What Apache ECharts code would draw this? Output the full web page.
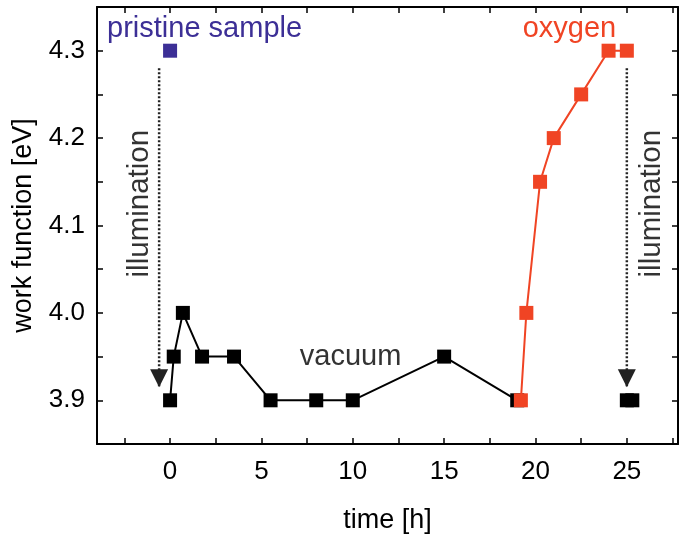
<!DOCTYPE html>
<html><head><meta charset="utf-8">
<script src="https://cdn.jsdelivr.net/npm/echarts@6/dist/echarts.min.js"></script>
<style>html,body{margin:0;padding:0;background:#fff}#c{width:690px;height:539px}</style>
</head><body><div id="c"></div>
<script>
// Data
const vacuumTime = [0, 0.2, 0.7, 1.75, 3.5, 5.5, 8, 10, 15, 19];
const vacuumWF   = [3.9, 3.95, 4.0, 3.95, 3.95, 3.9, 3.9, 3.9, 3.95, 3.9];
const oxygenTime = [19.2, 19.5, 20.25, 21, 22.5, 24, 25];
const oxygenWF   = [3.9, 4.0, 4.15, 4.2, 4.25, 4.3, 4.3];
const afterTime  = [25, 25.3];
const afterWF    = [3.9, 3.9];
const pristineTime = [0];
const pristineWF   = [4.3];
const xLabelTicks = [0, 5, 10, 15, 20, 25];
const xMinorTicks = [-2.5, 0, 2.5, 5, 7.5, 10, 12.5, 15, 17.5, 20, 22.5, 25, 27.5];
const yLabelTicks = [3.9, 4.0, 4.1, 4.2, 4.3];
// annotation arrows: [x, yStart, yEnd]
const arrows = [[-0.6, 4.28, 3.915], [25, 4.28, 3.915]];

const FONT = 'Liberation Sans, Arial, sans-serif';
const chart = echarts.init(document.getElementById('c'));
const zip = (a, b) => a.map((v, i) => [v, b[i]]);
const axisBase = {
  type: 'value', min: -4, max: 27.8,
  axisLine: { show: true, onZero: false, lineStyle: { color: '#000', width: 2 } },
  axisTick: { show: true, inside: true, length: 6, lineStyle: { color: '#000', width: 1.5 }, customValues: xMinorTicks },
  splitLine: { show: false }
};
const yBase = {
  type: 'value', min: 3.85, max: 4.35, interval: 0.05,
  axisLine: { show: true, onZero: false, lineStyle: { color: '#000', width: 2 } },
  axisTick: { show: true, inside: true, length: 6, lineStyle: { color: '#000', width: 1.5 } },
  splitLine: { show: false }
};
const arrowSeries = arrows.map(a => ({
  type: 'line', data: [[a[0], a[1]], [a[0], a[2]]], symbol: 'none', silent: true,
  lineStyle: { color: '#222', width: 2.5, type: [2, 2] }, z: 1
}));
const arrowHeads = {
  type: 'scatter', silent: true, symbol: 'triangle', symbolRotate: 180, symbolSize: [18, 18],
  symbolOffset: [0, -9],
  itemStyle: { color: '#222', opacity: 1 },
  data: arrows.map(a => [a[0], a[2]]), z: 2
};
chart.setOption({
  animation: false,
  grid: { left: 97, right: 12, top: 7, bottom: 95 },
  xAxis: [
    Object.assign({}, axisBase, {
      position: 'bottom', name: 'time [h]', nameLocation: 'middle', nameGap: 63,
      nameTextStyle: { fontFamily: FONT, fontSize: 27, color: '#000' },
      axisLabel: { customValues: xLabelTicks, fontFamily: FONT, fontSize: 26, color: '#000', margin: 15 }
    }),
    Object.assign({}, axisBase, { position: 'top', axisLabel: { show: false } })
  ],
  yAxis: [
    Object.assign({}, yBase, {
      position: 'left', name: 'work function [eV]', nameLocation: 'middle', nameGap: 60,
      nameTextStyle: { fontFamily: FONT, fontSize: 27, color: '#000' },
      axisLabel: { customValues: yLabelTicks, formatter: v => v.toFixed(1), fontFamily: FONT, fontSize: 26, color: '#000', margin: 12 }
    }),
    Object.assign({}, yBase, { position: 'right', axisLabel: { show: false } })
  ],
  series: [
    ...arrowSeries,
    arrowHeads,
    { type: 'line', data: zip(vacuumTime, vacuumWF), symbol: 'rect', symbolSize: 14,
      lineStyle: { color: '#000', width: 2 }, itemStyle: { color: '#000' }, z: 3 },
    { type: 'line', data: zip(oxygenTime, oxygenWF), symbol: 'rect', symbolSize: 14,
      lineStyle: { color: '#f04424', width: 2 }, itemStyle: { color: '#f04424' }, z: 4 },
    { type: 'scatter', data: zip(afterTime, afterWF), symbol: 'rect', symbolSize: 14,
      itemStyle: { color: '#000', opacity: 1 }, z: 3 },
    { type: 'scatter', data: zip(pristineTime, pristineWF), symbol: 'rect', symbolSize: 14,
      itemStyle: { color: '#3c2f96', opacity: 1 }, z: 3 }
  ]
});
const px = (x, y) => chart.convertToPixel({ xAxisIndex: 0, yAxisIndex: 0 }, [x, y]);
const txt = (pos, text, color, size, rot, align) => ({
  type: 'text', x: pos[0], y: pos[1], rotation: rot || 0,
  style: { text, fill: color, font: size + 'px ' + FONT, align: align || 'left', verticalAlign: 'middle' }
});
chart.setOption({
  graphic: [
    txt(px(-3.45, 4.325), 'pristine sample', '#3c2f96', 29),
    txt(px(19.3, 4.325), 'oxygen', '#f04424', 29),
    txt(px(7.1, 3.95), 'vacuum', '#333', 29),
    txt(px(-1.65, 4.125), 'illumination', '#333', 29.5, Math.PI / 2, 'center'),
    txt(px(26.35, 4.125), 'illumination', '#333', 29.5, Math.PI / 2, 'center')
  ]
});
</script></body></html>
